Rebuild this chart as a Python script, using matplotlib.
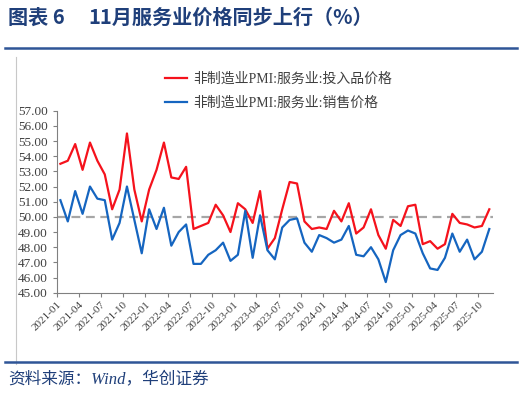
import matplotlib
matplotlib.use("Agg")
import matplotlib.pyplot as plt
from matplotlib.lines import Line2D

plt.rcParams['font.family'] = ['Liberation Serif', 'Noto Sans CJK SC', 'DejaVu Sans']

months = [f"{y}-{m:02d}" for y in range(2021, 2026) for m in range(1, 13)][:59]

input_price = [53.5, 53.7, 54.8, 53.1, 54.9, 53.7, 52.8, 50.5, 51.8, 55.5,
               51.8, 49.7, 51.8, 53.1, 54.9, 52.6, 52.5, 53.3, 49.2, 49.4,
               49.6, 50.8, 50.1, 49.0, 50.9, 50.5, 49.6, 51.7, 47.9, 48.6,
               50.5, 52.3, 52.2, 49.7, 49.2, 49.3, 49.2, 50.4, 49.7, 50.9,
               48.9, 49.3, 50.5, 48.8, 47.9, 49.8, 49.4, 50.7, 50.8, 48.2,
               48.4, 47.9, 48.2, 50.2, 49.6, 49.5, 49.3, 49.4, 50.5]
sales_price = [51.1, 49.7, 51.7, 50.2, 52.0, 51.2, 51.1, 48.5, 49.6, 52.0,
               49.8, 47.6, 50.5, 49.2, 50.6, 48.1, 49.0, 49.5, 46.9, 46.9,
               47.5, 47.8, 48.3, 47.1, 47.5, 50.4, 47.3, 50.1, 47.8, 47.2,
               49.3, 49.8, 49.9, 48.3, 47.7, 48.8, 48.6, 48.3, 48.5, 49.4,
               47.5, 47.4, 48.0, 47.2, 45.7, 47.8, 48.8, 49.1, 48.9, 47.6,
               46.6, 46.5, 47.3, 48.9, 47.7, 48.5, 47.2, 47.7, 49.2]
labels = ["非制造业PMI:服务业:投入品价格", "非制造业PMI:服务业:销售价格"]
title_left = "图表 6"
title_right = "11月服务业价格同步上行（%）"
source = "资料来源：Wind，华创证券"

W, H = 524, 393
fig = plt.figure(figsize=(W/100, H/100), dpi=100)
ax = fig.add_axes([56.7/W, 1-292.7/H, (493-56.7)/W, (292.7-110.7)/H])

x = list(range(len(months)))
red, = ax.plot(x, input_price, color='#F5121C', lw=1.6, label=labels[0])
blue, = ax.plot(x, sales_price, color='#1565C0', lw=1.6, label=labels[1])
ax.axhline(50, color='#A6A6A6', lw=1.6, ls=(0, (4, 2.5)), zorder=1)

ax.set_xlim(-0.5, len(months) - 0.5)
ax.set_ylim(45, 57)
ax.set_yticks(range(45, 58))
ax.set_yticklabels([f"{v:.2f}" for v in range(45, 58)], fontsize=9.5, color='#404040')
tick_idx = list(range(0, len(months), 3))
ax.set_xticks([i - 0.5 for i in tick_idx])
ax.set_xticklabels([months[i] for i in tick_idx], rotation=45, ha='right',
                   rotation_mode='anchor', fontsize=8, color='#404040')
ax.tick_params(axis='both', direction='out', length=3, color='#808080', width=0.8)
ax.tick_params(axis='x', pad=2)
for s in ['top', 'right']:
    ax.spines[s].set_visible(False)
for s in ['left', 'bottom']:
    ax.spines[s].set_color('#808080')
    ax.spines[s].set_linewidth(0.8)

leg = fig.legend(handles=[red, blue], loc='upper left',
                 bbox_to_anchor=(152/W, 1-60/H), frameon=False,
                 fontsize=10, handlelength=1.6, labelspacing=0.75,
                 handletextpad=0.5, labelcolor='#404040')

fig.text(8/W, 1-17/H, title_left, fontsize=14.5, fontweight='bold', color='#1F3F7A',
         va='center', ha='left', family=['Noto Sans CJK SC'])
fig.text(88/W, 1-17/H, title_right, fontsize=14.5, fontweight='bold', color='#1F3F7A',
         va='center', ha='left', family=['Noto Sans CJK SC'])
fig.add_artist(Line2D([5/W, 517/W], [1-48/H, 1-48/H], color='#2F5597', lw=1.8))
fig.add_artist(Line2D([16/W, 16/W], [1-57/H, 1-364/H], color='#C8C8C8', lw=0.8))
fig.add_artist(Line2D([5/W, 517/W], [1-362/H, 1-362/H], color='#2F5597', lw=1.8))
fig.text(8/W, 1-379/H, source, fontsize=12, style='italic', color='#1F3F7A',
         va='center', ha='left', family=['Liberation Serif', 'Noto Sans CJK SC'])

fig.savefig('out.png', dpi=100)
